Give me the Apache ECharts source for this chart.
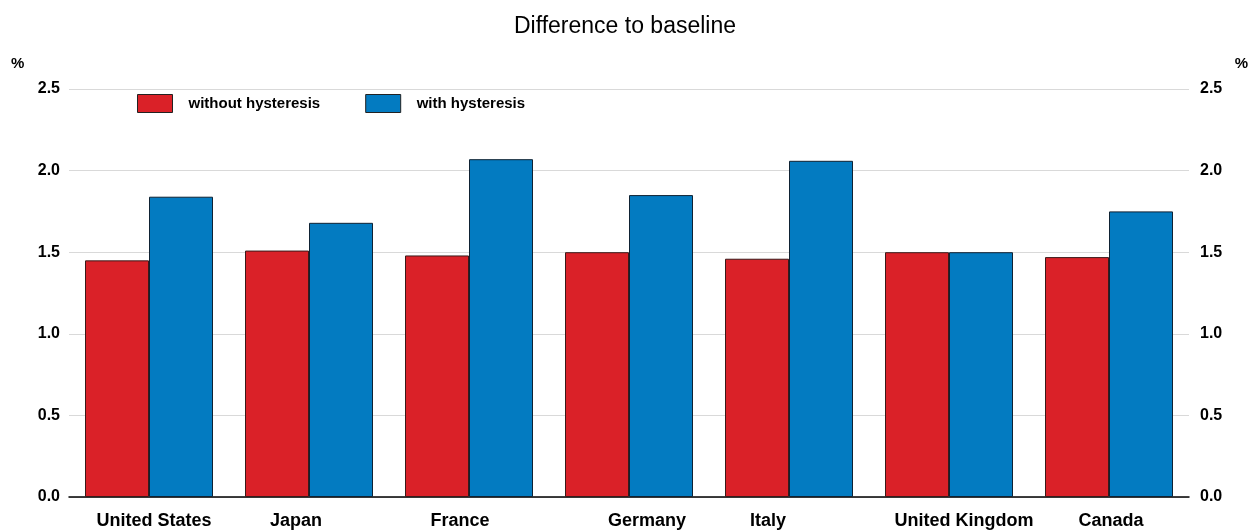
<!DOCTYPE html>
<html>
<head>
<meta charset="utf-8">
<style>
  html, body { margin: 0; padding: 0; background: #fff; }
  #chart { width: 1250px; height: 531px; }
</style>
<script src="https://cdn.jsdelivr.net/npm/echarts@6/dist/echarts.min.js"></script>
</head>
<body>
<div id="chart"></div>
<script>
var categories = ['United States', 'Japan', 'France', 'Germany', 'Italy', 'United Kingdom', 'Canada'];
var withoutHysteresis = [1.45, 1.51, 1.48, 1.50, 1.46, 1.50, 1.47];
var withHysteresis = [1.84, 1.68, 2.07, 1.85, 2.06, 1.50, 1.75];
// the source places its country labels a little off the group centres (px)
var labelShift = [5, -13, -9, 18, -21, 15, 2];

var red = '#da2128';
var blue = '#037bc1';
var font = '"Liberation Sans", Arial, sans-serif';

var chart = echarts.init(document.getElementById('chart'), null, { renderer: 'canvas' });

function valueAxis(pos) {
  return {
    type: 'value',
    position: pos,
    min: 0,
    max: 2.5,
    interval: 0.5,
    axisLine: { show: false },
    axisTick: { show: false },
    splitLine: { show: pos === 'left', lineStyle: { color: '#d9d9d9', width: 1 } },
    axisLabel: {
      color: '#000',
      fontFamily: font,
      fontWeight: 'bold',
      fontSize: 16,
      margin: pos === 'left' ? 9 : 11,
      formatter: function(v) { return v.toFixed(1); }
    }
  };
}

var rich = {};
labelShift.forEach(function(s, i) {
  rich['c' + i] = {
    fontFamily: font,
    fontWeight: 'bold',
    fontSize: 18,
    color: '#000',
    padding: s >= 0 ? [0, 0, 0, 2 * s] : [0, -2 * s, 0, 0]
  };
});

chart.setOption({
  animation: false,
  backgroundColor: '#fff',
  title: {
    text: 'Difference to baseline',
    left: 'center',
    top: 10,
    textStyle: { fontFamily: font, fontWeight: 'normal', fontSize: 23, color: '#000' }
  },
  legend: {
    left: 137,
    top: 94,
    padding: 0,
    icon: 'rect',
    itemWidth: 35,
    itemHeight: 18,
    itemGap: 45,
    itemStyle: { borderColor: '#222', borderWidth: 1 },
    textStyle: { fontFamily: font, fontWeight: 'bold', fontSize: 15, color: '#000', padding: [0, 0, 0, 11] },
    data: ['without hysteresis', 'with hysteresis']
  },
  graphic: [
    { type: 'text', left: 11, top: 56, style: { text: '%', font: 'bold 15px ' + font, fill: '#000' } },
    { type: 'text', right: 2, top: 56, style: { text: '%', font: 'bold 15px ' + font, fill: '#000' } }
  ],
  grid: { left: 69, right: 61, top: 89, bottom: 34, containLabel: false },
  xAxis: {
    type: 'category',
    data: categories,
    axisLine: { show: true, lineStyle: { color: '#000', width: 1.5 } },
    axisTick: { show: false },
    axisLabel: {
      color: '#000',
      fontFamily: font,
      fontWeight: 'bold',
      fontSize: 18,
      margin: 15,
      interval: 0,
      rich: rich,
      formatter: function(v, i) { return '{c' + i + '|' + v + '}'; }
    }
  },
  yAxis: [valueAxis('left'), valueAxis('right')],
  series: [
    {
      name: 'without hysteresis',
      type: 'bar',
      data: withoutHysteresis,
      barGap: '0%',
      barCategoryGap: '20%',
      itemStyle: { color: red, borderColor: '#3a1a1a', borderWidth: 1 }
    },
    {
      name: 'with hysteresis',
      type: 'bar',
      data: withHysteresis,
      barGap: '0%',
      barCategoryGap: '20%',
      itemStyle: { color: blue, borderColor: '#0f2233', borderWidth: 1 }
    }
  ]
});
</script>
</body>
</html>
